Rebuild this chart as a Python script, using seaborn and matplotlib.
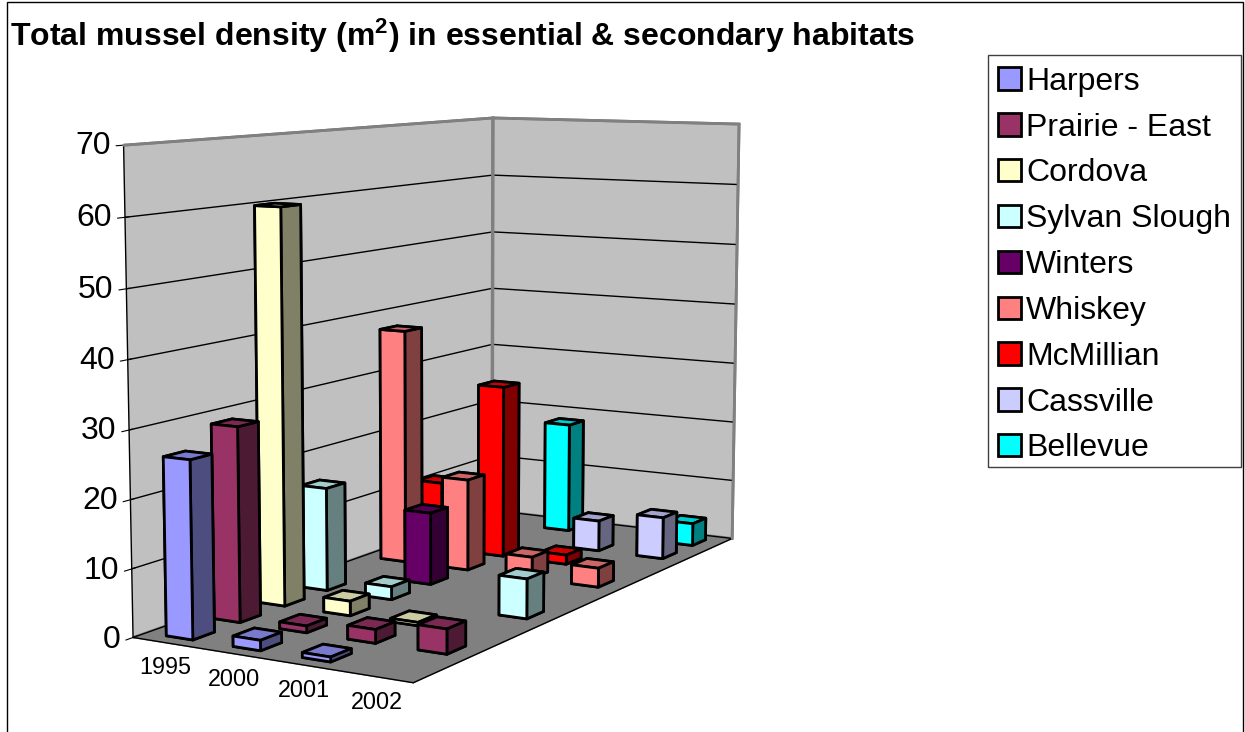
import numpy as np
import matplotlib
matplotlib.use('Agg')
import matplotlib.pyplot as plt
from matplotlib.patches import Patch, Rectangle
import seaborn as sns

years = ['1995', '2000', '2001', '2002']
sites = ['Harpers', 'Prairie - East', 'Cordova', 'Sylvan Slough', 'Winters',
         'Whiskey', 'McMillian', 'Cassville', 'Bellevue']
harpers = [26, 1.5, 0.7, 0]
prairie = [29, 1, 2, 3.6]
cordova = [60, 2.2, 0.5, 0]
sylvan = [16, 2, 0, 6]
winters = [0, 11.3, 0, 0]
whiskey = [37.7, 14.6, 3.4, 3]
mcmillian = [11, 28, 1.5, 0]
cassville = [0, 0, 5, 6.8]
bellevue = [0, 18.4, 0, 3.7]
density = [harpers, prairie, cordova, sylvan, winters, whiskey, mcmillian, cassville, bellevue]
site_colors = ['#9999FF', '#993366', '#FFFFCC', '#CCFFFF', '#660066',
               '#FF8080', '#FF0000', '#CCCCFF', '#00FFFF']

W, H = 1245, 732
sns.set_style('white')
plt.rcParams['font.family'] = ['Liberation Sans', 'DejaVu Sans']
plt.rcParams['text.color'] = 'k'
plt.rcParams['xtick.color'] = 'k'
plt.rcParams['ytick.color'] = 'k'
plt.rcParams['mathtext.fontset'] = 'custom'
plt.rcParams['mathtext.bf'] = 'Liberation Sans:bold'
plt.rcParams['mathtext.default'] = 'regular'

fig = plt.figure(figsize=(W / 100, H / 100), dpi=100)
# camera and box were fitted to the corners of the walls in the picture
side = 842.9
ax = fig.add_axes([25.76 / W, -62.52 / H, side / W, side / H], projection='3d')
x_max, y_max, z_max = len(years), len(sites), 70
ax.set_xlim(0, x_max, view_margin=0)
ax.set_ylim(0, y_max, view_margin=0)
ax.set_zlim(0, z_max, view_margin=0)
ax.view_init(elev=8.1494, azim=-59.7106, roll=-0.0187)
ax.set_proj_type('persp', focal_length=0.5321)
ax.set_box_aspect((0.6683, 1.4842, 1))

ax.patch.set_visible(False)
for axis in (ax.xaxis, ax.yaxis):
    axis.set_pane_color('#C0C0C0')
    axis.pane.set_edgecolor('#808080')
    axis.pane.set_linewidth(2)
ax.zaxis.set_pane_color('#808080')
ax.zaxis.pane.set_edgecolor('#808080')
ax.computed_zorder = False

ax.set_xticks(np.arange(len(years)) + 0.62)
ax.set_xticklabels(years, fontsize=16.8)
ax.set_yticks([])
ax.set_zticks(range(0, z_max + 1, 10))
ax.tick_params(axis='z', labelsize=23, pad=-2.5)
ax.tick_params(axis='x', pad=-2)
ax.zaxis.set_ticks_position('lower')
for t in ax.get_zticklabels():
    t.set_ha('right')
    t.set_va('center')
for axis in (ax.xaxis, ax.yaxis, ax.zaxis):
    axis.line.set_color('k')
    axis.line.set_linewidth(1)
    axis._axinfo['grid']['color'] = (0, 0, 0, 0)
ax.zaxis._axinfo['grid']['color'] = (0, 0, 0, 1)
ax.zaxis._axinfo['grid']['linewidth'] = 1
ax.xaxis._axinfo['tick']['linewidth'] = {True: 0, False: 0}

# grey rim of the walls, on top of the black 70 gridline
rim = dict(color='#808080', linewidth=2, zorder=0)
ax.plot([0, 0], [0, y_max], [z_max, z_max], **rim)
ax.plot([0, x_max], [y_max, y_max], [z_max, z_max], **rim)
ax.plot([x_max, x_max], [y_max, y_max], [0, z_max], **rim)
ax.plot([0, 0], [y_max, y_max], [0, z_max], color='#808080', linewidth=2.5, zorder=0)

palette = sns.color_palette(site_colors)
dx, dy = 0.4, 0.45
z = 1
# back to front so the bars cover each other properly
for s in range(len(sites) - 1, -1, -1):
    col = np.array(palette[s])
    faces = [col, col * 0.8, col, col, col * 0.5, col * 0.5]
    for y in range(len(years)):
        h = density[s][y]
        if h == 0:
            continue
        ax.bar3d(y + 0.5 - dx / 2, s + 0.5 - dy / 2, 0, dx, dy, h, color=faces,
                 shade=False, edgecolor='k', linewidth=2, zorder=z)
        z += 1

fig.add_artist(Rectangle((988 / W, 1 - 467 / H), 253 / W, 412 / H, transform=fig.transFigure,
                         facecolor='w', edgecolor='#404040', linewidth=1))
handles = [Patch(facecolor=c, edgecolor='k', linewidth=2) for c in site_colors]
leg = fig.legend(handles, sites, loc='upper left', bbox_to_anchor=(988 / W, 1 - 56.5 / H),
                 borderaxespad=0, fontsize=23, frameon=False,
                 handlelength=0.7, handleheight=0.7, handletextpad=0.18, borderpad=0.32, labelspacing=0.496)

fig.text(10 / W, 1 - 36 / H, r'Total mussel density (m$^{\mathbf{2}}$) in essential & secondary habitats',
         fontsize=23, fontweight='bold', va='center', ha='left')
fig.add_artist(Rectangle((6.5 / W, -0.1), (1243 - 6.5) / W, 1.1 - 2 / H, transform=fig.transFigure,
                         fill=False, edgecolor='k', linewidth=1))
fig.savefig('out.png', dpi=100)
